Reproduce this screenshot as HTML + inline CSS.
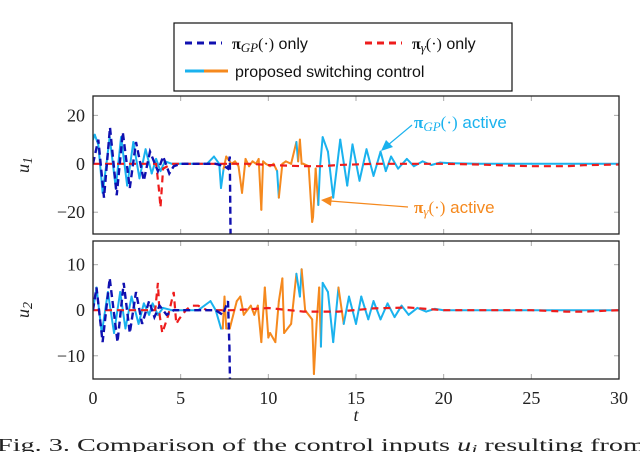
<!DOCTYPE html>
<html><head><meta charset="utf-8"><style>
body{margin:0;background:#fff;}
svg{display:block;}
.tk{font-family:"Liberation Serif",serif;font-size:18px;fill:#222;}
.lg{font-family:"Liberation Sans",sans-serif;font-size:16px;fill:#111;}
</style></head><body>
<svg id="c" width="640" height="452" viewBox="0 0 640 452" xmlns="http://www.w3.org/2000/svg">
<g>
<rect x="174" y="23" width="338" height="68" fill="#fff" stroke="#111" stroke-width="1.2"/>
<line x1="185" y1="43" x2="222" y2="43" stroke="#1010b0" stroke-width="3" stroke-dasharray="7,5"/>
<text class="lg" x="232" y="49"><tspan font-weight="bold" font-family="Liberation Serif">π</tspan><tspan font-style="italic" font-family="Liberation Serif" font-size="13" dy="3">GP</tspan><tspan font-family="Liberation Serif" dy="-3">(·)</tspan> only</text>
<line x1="365" y1="43" x2="402" y2="43" stroke="#ee1c1c" stroke-width="3" stroke-dasharray="7,5"/>
<text class="lg" x="412" y="49"><tspan font-weight="bold" font-family="Liberation Serif">π</tspan><tspan font-style="italic" font-family="Liberation Serif" font-size="13" dy="3">γ</tspan><tspan font-family="Liberation Serif" dy="-3">(·)</tspan> only</text>
<line x1="185" y1="71" x2="204" y2="71" stroke="#1ab2ee" stroke-width="3"/>
<line x1="204" y1="71" x2="228" y2="71" stroke="#f5891e" stroke-width="3"/>
<text class="lg" x="235" y="77">proposed switching control</text>
</g>
<g id="p1"></g>
<g id="p2"></g>
<text class="tk" x="356" y="421" font-style="italic" font-size="20" text-anchor="middle">t</text>
<text class="tk" x="-3" y="451" font-size="21" textLength="648" lengthAdjust="spacingAndGlyphs">Fig. 3. Comparison of the control inputs <tspan font-style="italic">u</tspan><tspan font-style="italic" font-size="14" dy="3">i</tspan><tspan dy="-3"> resulting from</tspan></text>
<g>
<text x="414" y="128" font-family="Liberation Sans,sans-serif" font-size="17" fill="#1ab2ee"><tspan font-weight="bold" font-family="Liberation Serif">π</tspan><tspan font-style="italic" font-family="Liberation Serif" font-size="13" dy="3">GP</tspan><tspan font-family="Liberation Serif" dy="-3">(·)</tspan> active</text>
<line x1="412" y1="125" x2="388" y2="145" stroke="#1ab2ee" stroke-width="1.2"/>
<polygon points="381,151 386,140 393,147" fill="#1ab2ee"/>
</g>
<g>
<text x="414" y="213" font-family="Liberation Sans,sans-serif" font-size="17" fill="#f5891e"><tspan font-weight="bold" font-family="Liberation Serif">π</tspan><tspan font-style="italic" font-family="Liberation Serif" font-size="13" dy="3">γ</tspan><tspan font-family="Liberation Serif" dy="-3">(·)</tspan> active</text>
<line x1="408" y1="207" x2="330" y2="201" stroke="#f5891e" stroke-width="1.2"/>
<polygon points="321,200 332,196 331,206" fill="#f5891e"/>
</g>
</svg>
<script>
// ---- data ----
const xTicks=[0,5,10,15,20,25,30];
const u1Ticks=[-20,0,20];
const u2Ticks=[-10,0,10];
const u1GpT=[0,0.3,0.63,0.97,1.35,1.7,2.1,2.45,2.9,3.25,3.7,4.0,4.35,4.6,5,6,7,7.5,7.7,7.8,7.82,7.85];
const u1GpV=[0,10,-14,15,-13,13,-10,9,-7,5,-3,3,-4,-1,0,0,0,-1,-2,3,-10,-32];
const u1GmT=[0,1,2,3,3.6,3.75,3.85,4.0,4.5,5,6,7,8,9,10,12,13,14,16,18,20,22,24,25,27,28,30];
const u1GmV=[0,0,0,0,0,-10,-18,-2,0,0,0,0,0,0,-0.5,-1,-1,-0.5,0,0,0,-0.3,-0.8,-1,-1,-0.6,-0.3];
const u1SwT=[0,0.1,0.3,0.55,0.8,0.95,1.3,1.6,1.95,2.3,2.65,3.0,3.35,3.6,3.85,4.1,4.5,5,6,6.5,6.9,7.2,7.3,7.45,7.6,7.7,7.9,8.1,8.3,8.5,8.7,8.9,9.1,9.3,9.45,9.6,9.7,9.85,10.1,10.3,10.5,10.6,10.8,11.0,11.3,11.6,11.7,11.8,11.9,12.0,12.3,12.5,12.55,12.7,12.85,12.95,13.1,13.4,13.7,14.1,14.5,14.8,15.2,15.6,16.0,16.4,16.7,17.0,17.4,17.9,18.3,18.8,19.3,19.8,20.5,22,25,30];
const u1SwV=[10,12,8,-12,2,11,-10,11,-9,9,-6,6,-4,2,-3,1,0,0,0,0,3,0,-10,-2,3,2,0,1,-1,-12,2,-1,1,0,2,-19,1,0,-1,0,-3,-14,0,1,0,9,1,10,0,0,-1,-24,-22,-2,-17,-1,11,5,-14,10,-9,8,-7,6,-5,5,-3,3,-2,2,-1,1,-0.5,0.5,0.2,0,0,0];
const u1SwM=[0,0,0,0,0,0,0,0,0,0,0,0,0,0,0,0,0,0,0,0,0,0,0,0,1,1,1,1,1,1,1,1,1,1,1,1,1,1,1,1,1,0,1,1,1,1,0,1,1,1,1,1,1,1,1,0,0,0,0,0,0,0,0,0,0,0,0,0,0,0,0,0,0,0,0,0,0,0];
const u2GpT=[0,0.2,0.55,0.95,1.4,1.75,2.1,2.45,2.8,3.2,3.5,3.8,4.2,4.6,5,6,7,7.4,7.7,7.78,7.82];
const u2GpV=[0,5,-7,7,-7,6,-5,4,-3,2,-1.5,1,-1,0,0,0,0,-1,2,-8,-17];
const u2GmT=[0,1,2,3,3.55,3.7,3.8,3.95,4.3,4.6,4.75,4.9,5.3,5.6,6,6.5,8,10,12,14,16,18,20,22,25,27,28,30];
const u2GmV=[0,0,0,0,0,6,-1,-5,-1,4,-3,-2,0,1,1,0,0,0.5,-0.3,-0.3,0.4,0.6,0,0,0,-0.3,-0.3,0];
const u2SwT=[0,0.2,0.5,0.85,1.2,1.55,1.85,2.2,2.6,2.9,3.2,3.4,3.7,4.0,4.5,6,6.7,7.0,7.3,7.4,7.5,7.6,7.8,8.2,8.4,8.6,9,9.2,9.4,9.6,9.8,10.0,10.1,10.4,10.6,10.8,10.9,11.3,11.6,11.8,11.9,12.1,12.5,12.6,12.75,12.9,13.0,13.1,13.4,13.7,14.0,14.3,14.6,15.0,15.3,15.7,16.0,16.4,16.8,17.2,17.6,18.0,18.5,19.0,19.5,20,30];
const u2SwV=[0,5,-5,4,-5,4,-4,3,-3,1.5,-1,1.5,-1,0.5,0,0,2,0,-4,-4,3,-4,-4,2,3,-1,1,-1,1,-7,5,-6,-5,-7,2,7,-5,-3,8,3,9,0,-2,-14,-3,5,-8,6,4,-7,5,-3,3,-3,3,-2,2,-2,1.5,-1.5,1,-1,0.5,-0.3,0.3,0,0];
const u2SwM=[0,0,0,0,0,0,0,0,0,0,0,0,0,0,0,0,0,0,0,0,1,1,1,1,1,1,1,1,1,1,1,1,1,1,1,1,1,1,1,0,0,1,1,1,1,1,1,0,0,0,0,1,0,0,0,0,0,0,0,0,0,0,0,0,0,0,0];
// ---- drawing ----
const NS="http://www.w3.org/2000/svg";
const X0=93,X1=619;
const xs=t=>X0+(t-0)/30*(X1-X0);
function mk(tag,attrs,parent){const e=document.createElementNS(NS,tag);for(const k in attrs)e.setAttribute(k,attrs[k]);parent.appendChild(e);return e;}
function panel(g,top,bot,ymin,ymax,ticks,label,gpT,gpV,gmT,gmV,swT,swV,swM,showX){
  const ys=v=>bot-(v-ymin)/(ymax-ymin)*(bot-top);
  const cp="clip"+label;
  const d=mk('clipPath',{id:cp},g);mk('rect',{x:X0,y:top,width:X1-X0,height:bot-top},d);
  xTicks.forEach(t=>{
    const a=mk('line',{x1:xs(t),x2:xs(t),y1:top,y2:top+5,stroke:'#aaa'},g);
    
    
    const b=mk('line',{x1:xs(t),x2:xs(t),y1:bot,y2:bot-5,stroke:'#aaa'},g);
    
    
    if(showX){const tx=mk('text',{x:xs(t),y:bot+25,'text-anchor':'middle','class':'tk'},g);tx.textContent=t;
      
      }
  });
  ticks.forEach(v=>{
    const a=mk('line',{x1:X0,x2:X0+5,y1:ys(v),y2:ys(v),stroke:'#aaa'},g);
    
    
    mk('line',{x1:X1,x2:X1-5,y1:ys(v),y2:ys(v),stroke:'#aaa'},g);
    const tx=mk('text',{x:X0-8,y:ys(v)+6,'text-anchor':'end','class':'tk'},g);
    tx.textContent=(v<0?'\u2212'+(-v):v);
    
    
  });
  const lab=mk('text',{x:0,y:0,'class':'tk','font-style':'italic','font-size':20,transform:`translate(29,${(top+bot)/2}) rotate(-90)`,'text-anchor':'middle'},g);
  lab.innerHTML='u<tspan font-size="14" dy="3">'+label+'</tspan>';
  
  
  const cg=mk('g',{'clip-path':`url(#${cp})`},g);
  for(let i=0;i<swT.length-1;i++){
    const s=mk('line',{x1:xs(swT[i]),y1:ys(swV[i]),x2:xs(swT[i+1]),y2:ys(swV[i+1]),stroke:swM[i+1]?'#f5891e':'#1ab2ee','stroke-width':2,'stroke-linecap':'round'},cg);
    
    
  }
  const pth=(T,V)=>T.map((t,i)=>(i?'L':'M')+xs(t).toFixed(1)+','+ys(V[i]).toFixed(1)).join('');
  const gm=mk('path',{d:pth(gmT,gmV),fill:'none',stroke:'#ee1c1c','stroke-width':2.2,'stroke-dasharray':'7,5'},cg);
  
  
  const gp=mk('path',{d:pth(gpT,gpV),fill:'none',stroke:'#1010b0','stroke-width':2.4,'stroke-dasharray':'7,4'},cg);
  
  
  const fr=mk('rect',{x:X0,y:top,width:X1-X0,height:bot-top,fill:'none',stroke:'#222','stroke-width':1.3},g);
  
  
}
panel(document.getElementById('p1'),96,234,-29,28,u1Ticks,'1',u1GpT,u1GpV,u1GmT,u1GmV,u1SwT,u1SwV,u1SwM,false);
panel(document.getElementById('p2'),241,379,-15.1,15.2,u2Ticks,'2',u2GpT,u2GpV,u2GmT,u2GmV,u2SwT,u2SwV,u2SwM,true);
</script>
</body></html>
